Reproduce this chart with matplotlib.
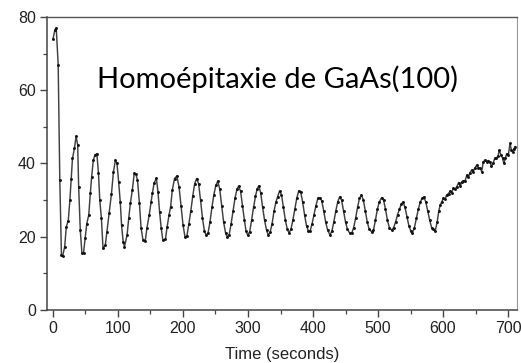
import matplotlib
matplotlib.use("Agg")
import matplotlib.pyplot as plt
from matplotlib.ticker import MultipleLocator

# Time (s) and RHEED intensity
time_s = [
    0, 3, 5, 8, 10.5, 13, 15, 18, 20.5, 23.5, 26, 28, 30, 33, 35.5, 38, 39.5, 42, 44.5, 47,
    49.5, 52, 55, 57.5, 59.5, 62, 64.5, 67.5, 70, 72, 74.5, 77, 80.5, 83, 86.5, 90, 93, 96, 98.5, 101,
    103.5, 105.5, 108, 110, 114, 116.5, 119, 122, 125, 127.5, 130, 133, 135.5, 138.5, 142, 144.5, 148, 151, 153, 155.5,
    159, 161.5, 164, 166.5, 169, 173, 175.5, 178.5, 181, 183.5, 187, 190.5, 194, 197, 200, 203, 206, 209, 212, 215,
    218, 221, 224, 227, 230, 233, 235.5, 238.5, 241.5, 244.5, 247.5, 250.5, 253.5, 256.5, 259.5, 262.5, 265.5, 268, 271, 274,
    277, 280, 283, 285.5, 288.5, 291.5, 294.5, 297, 299.5, 302.5, 305.5, 308.5, 311.5, 314, 316.5, 319.5, 322.5, 325.5, 328.5, 331,
    334, 337, 340, 343, 345.5, 348.5, 351.5, 354.5, 357.5, 360.5, 363, 366, 369, 372, 375, 378, 381, 384, 387, 390,
    393, 395.5, 398.5, 401.5, 404.5, 407.5, 410.5, 413.5, 416.5, 419.5, 422.5, 426, 429, 432, 435, 438, 441, 444, 447, 450,
    453, 456.5, 459.5, 462.5, 465.5, 468.5, 471.5, 474.5, 477.5, 480.5, 483.5, 486.5, 490, 493, 496, 499, 502, 505.5, 508.5, 511.5,
    514.5, 517.5, 521, 524, 527, 530, 533, 536, 538.5, 541.5, 544.5, 547.5, 550.5, 553, 556, 559, 562, 565, 568, 570.5,
    573.5, 576.5, 579.5, 582.5, 585, 588, 591, 593.5, 595.5, 598, 600.5, 603, 605.5, 608.5, 611, 613.5, 616, 618.5, 621, 624,
    626.5, 629, 631.5, 634, 636.5, 639, 641.5, 644, 646.5, 649, 652, 654.5, 657, 659.5, 662, 664.5, 667, 669.5, 672, 674.5,
    677, 679.5, 682, 684.5, 686.5, 689, 691.5, 693.5, 696, 698, 700.5, 703, 705, 707, 709, 711,
]
intensity = [
    74, 76.5, 77, 67, 35.5, 15, 14.8, 17.3, 22.7, 24.4, 30, 35.7, 41.4, 44.1, 47.5, 45, 33.6, 21.8, 15.6, 15.6,
    19.6, 23.6, 25.9, 32, 36.4, 40.9, 42.3, 42.7, 37.3, 30, 25, 16.8, 17.7, 21.4, 26.4, 31.8, 37.7, 40.9, 40, 35,
    29.5, 23.2, 18.6, 17.3, 20.5, 25, 29.1, 32.7, 37.3, 37.1, 35.5, 29.1, 22.4, 19.1, 18.9, 22.3, 25.9, 29.5, 32, 34.6,
    36, 32.3, 26.8, 22.3, 19.1, 19.3, 22.6, 25.9, 28.2, 32.7, 35.9, 36.6, 33.5, 28.4, 23.3, 20.0, 20.2, 23.5, 27, 31.1,
    34.5, 35.9, 34.5, 30, 25, 21.5, 20.5, 21, 24, 28, 31.5, 34, 35.2, 33, 28.5, 24, 21, 20, 20.5, 23.5,
    27, 30.5, 33, 33.8, 32.5, 28.5, 24.5, 21.5, 20.5, 21.3, 24.5, 28, 31, 33, 33.9, 32, 28, 24.5, 21.8, 20.5,
    21.2, 23.5, 27, 29.5, 30.9, 32.5, 31.5, 28, 24.5, 22, 21.1, 22, 24.5, 27.5, 30.5, 32.5, 32.3, 29.5, 26, 23,
    21.5, 21.5, 23.5, 26, 28.5, 30.5, 30.7, 29.8, 27, 24, 21.8, 20.5, 21.5, 24, 27, 29.5, 30.9, 30, 27, 24,
    22, 21, 20.9, 22.5, 25, 28, 30.5, 31.4, 30, 27, 24, 22, 21.4, 21.8, 24.5, 27.5, 29.5, 30.7, 30, 27.5,
    24.5, 22.5, 21.8, 22.5, 24, 26, 27.5, 29, 29.5, 28, 25.5, 23, 21.5, 21.1, 22.5, 25, 27.5, 29.5, 30.5, 30.9,
    29.5, 27, 24.5, 22.5, 22, 21.6, 24, 27, 28.6, 29.5, 30.5, 30.2, 31.4, 31.8, 32.5, 32, 33.3, 33, 33.6, 34.8,
    33.8, 35, 35.3, 35.3, 36.8, 36.2, 37.5, 38.2, 37.8, 38.8, 39.6, 38.8, 38.8, 37.8, 40.5, 40.9, 40.5, 40.8, 40.5, 39.2,
    40, 41.4, 41.5, 42, 43.7, 42.3, 41.5, 40, 41.5, 42.7, 42.3, 45.5, 43.8, 43.1, 44, 44.6,
]

x_ticks = [0, 100, 200, 300, 400, 500, 600, 700]
y_ticks = [0, 20, 40, 60, 80]
annotation = "Homoépitaxie de GaAs(100)"
x_label = "Time (seconds)"

fig = plt.figure(figsize=(5.21, 3.63), dpi=100)
ax = fig.add_axes([47 / 521, 1 - 310 / 363, (517 - 47) / 521, (310 - 17) / 363])

ax.plot(time_s, intensity, color="#404040", lw=1.05, marker="o", ms=2.1,
        mfc="#111111", mec="#111111", mew=0)

ax.set_xlim(-9.2, 713.8)
ax.set_ylim(0, 80)
ax.set_xticks(x_ticks)
ax.set_yticks(y_ticks)
ax.xaxis.set_minor_locator(MultipleLocator(50))
ax.yaxis.set_minor_locator(MultipleLocator(10))

tick_font = {"family": "Liberation Sans", "size": 11.5}
ax.set_xticklabels([str(v) for v in x_ticks], fontdict=tick_font, color="#222222")
ax.set_yticklabels([str(v) for v in y_ticks], fontdict=tick_font, color="#222222")
ax.tick_params(axis="both", which="major", direction="out", length=5, width=1.0,
               color="#444444", pad=3)
ax.tick_params(axis="both", which="minor", direction="out", length=3, width=0.9,
               color="#444444")
ax.tick_params(top=False, right=False, which="both")

for side in ["left", "bottom"]:
    ax.spines[side].set_color("#444444")
    ax.spines[side].set_linewidth(1.1)
ax.spines["top"].set_color("#555555")
ax.spines["top"].set_linewidth(1.0)
ax.spines["right"].set_color("#999999")
ax.spines["right"].set_linewidth(0.8)

ax.text(346, 60.5, annotation, ha="center", va="baseline",
        family="Lato", fontsize=21, color="#000000")

fig.text(282 / 521, 1 - 354 / 363, x_label, ha="center", va="center",
         family="Liberation Sans", fontsize=12, color="#222222")

fig.savefig("out.png", dpi=100)
